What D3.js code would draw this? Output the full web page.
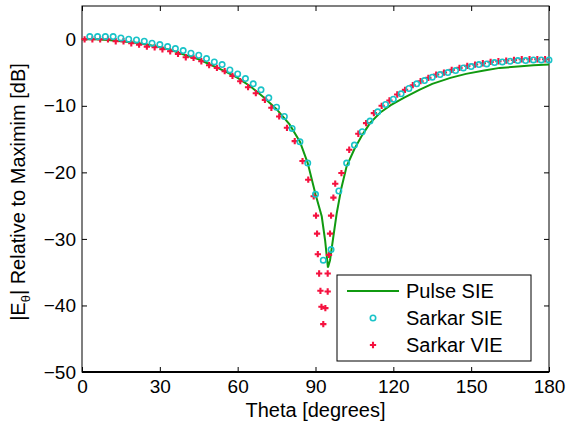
<!DOCTYPE html>
<meta charset="utf-8">
<style>
body { margin: 0; background: #fff; }
text { font-family: "Liberation Sans", Arial, sans-serif; fill: #000; }
</style>
<body>
<script src="https://d3js.org/d3.v7.min.js"></script>
<script>

// Pulse SIE (green line)
var pulseTheta = [0, 5, 10, 15, 20, 25, 30, 35, 40, 45, 50, 55, 60, 65, 70, 75, 80, 84, 87, 90, 92.4, 93.7, 94.8,
                  95.6, 96.9, 98.2, 100, 102, 105, 108, 111, 115, 119, 124, 130, 135, 142, 148, 155, 161, 168, 174, 180];
var pulseDb = [0, 0, -0.1, -0.3, -0.5, -0.8, -1.2, -1.7, -2.4, -3.0, -3.9, -4.8, -5.8, -7.1, -8.7, -10.5, -12.8, -15.4, -18.6, -23.3, -26.6, -30.2, -34.3,
               -33.2, -29.6, -26.1, -22.3, -19.1, -16.5, -14.4, -12.6, -11.0, -9.9, -8.8, -7.6, -6.7, -5.8, -5.2, -4.7, -4.3, -4.1, -3.9, -3.8];

// Sarkar SIE (cyan circles)
var sieTheta = d3.range(3, 181, 3);
var sieDb = [0.4, 0.4, 0.4, 0.4, 0.2, 0, -0.1, -0.3, -0.6, -0.8, -1.1, -1.4, -1.7, -2.1, -2.4, -2.9, -3.4, -3.8, -4.6, -5.2,
             -5.9, -6.7, -7.6, -8.8, -10.2, -11.6, -13.4, -15.4, -18.6, -23.3, -33.2, -31.6, -22.8, -18.6, -15.9, -13.9, -12.3, -10.9, -9.8, -9.0,
             -8.2, -7.4, -6.7, -6.2, -5.7, -5.3, -5.0, -4.7, -4.3, -4.1, -3.8, -3.7, -3.5, -3.4, -3.3, -3.2, -3.2, -3.1, -3.1, -3.1];

// Sarkar VIE (red crosses)
var vieTheta = [1, 4, 7, 10, 13, 16, 19, 22, 25, 28, 31, 34, 37, 40, 43, 46, 49, 52, 55, 58, 61, 64, 67, 70.5, 73, 76, 79, 82, 85,
                87.2, 89.3, 90.2, 90.6, 90.9, 91.4, 91.9, 92.3, 93.0, 93.8, 94.7, 94.7, 95.2, 95.6, 96.0, 96.9, 97.6,
                100, 103, 106.5, 109.5, 112.5, 115.5, 118.5, 121.5, 124.5, 127.5, 130.5, 133.5, 136.5, 139.5, 142.5, 145.5,
                148.5, 151.5, 154.5, 157.5, 160.5, 163.5, 166.5, 169.5, 172.5, 175.5, 178.5];
var vieDb = [0, 0, 0, 0, -0.3, -0.3, -0.6, -0.8, -1.1, -1.2, -1.5, -1.8, -2.2, -2.7, -2.8, -3.3, -3.9, -4.3, -4.8, -5.5, -6.3, -7.2, -8.1, -9.1, -10.3, -11.6, -13.3, -15.3, -18.3,
             -21.1, -23.6, -26.5, -29.2, -32.3, -35.2, -37.8, -40.2, -42.8, -40.4, -37.9, -35.2, -32.4, -29.2, -26.5, -23.8, -21.7,
             -20.1, -16.6, -14.2, -12.6, -11.1, -10.0, -9.2, -8.3, -7.6, -6.9, -6.3, -5.8, -5.3, -5.0, -4.6, -4.3,
             -4.0, -3.8, -3.6, -3.4, -3.3, -3.2, -3.1, -3.0, -3.0, -3.0, -3.0];

var xTicks = [0, 30, 60, 90, 120, 150, 180];
var yTicks = [-50, -40, -30, -20, -10, 0];

var green = "#109a10", cyan = "#19c3c8", red = "#f5123f";

var margin = {top: 6, right: 21, bottom: 56, left: 82},
    width = 570 - margin.left - margin.right,
    height = 428 - margin.top - margin.bottom;

var x = d3.scaleLinear().domain([0, 180]).range([0, width]);
var y = d3.scaleLinear().domain([-50, 5]).range([height, 0]);

var svg = d3.select("body").append("svg")
    .attr("width", 570)
    .attr("height", 428)
  .append("g")
    .attr("transform", "translate(" + margin.left + "," + margin.top + ")");

// axes with inward ticks, mirrored on top/right
function styleAxis(g) {
  g.select(".domain").remove();
  g.selectAll(".tick line").attr("stroke", "#000");
  g.selectAll(".tick text").attr("font-size", "19px").attr("fill", "#000");
}

svg.append("g")
    .attr("transform", "translate(0," + height + ")")
    .call(d3.axisBottom(x).tickValues(xTicks).tickSizeInner(-5).tickSizeOuter(0).tickPadding(8))
    .call(styleAxis);

svg.append("g")
    .call(d3.axisTop(x).tickValues(xTicks).tickSizeInner(-5).tickSizeOuter(0).tickFormat(""))
    .call(styleAxis);

svg.append("g")
    .call(d3.axisLeft(y).tickValues(yTicks).tickSizeInner(-5).tickSizeOuter(0).tickPadding(6))
    .call(styleAxis);

svg.append("g")
    .attr("transform", "translate(" + width + ",0)")
    .call(d3.axisRight(y).tickValues(yTicks).tickSizeInner(-5).tickSizeOuter(0).tickFormat(""))
    .call(styleAxis);

svg.append("rect")
    .attr("width", width)
    .attr("height", height)
    .attr("fill", "none")
    .attr("stroke", "#000")
    .attr("stroke-width", 1);

svg.append("line")
    .attr("x1", 0).attr("x2", width)
    .attr("y1", height).attr("y2", height)
    .attr("stroke", "#000").attr("stroke-width", 2);

// data
var pulse = pulseTheta.map(function(t, i) { return [t, pulseDb[i]]; });
var sie = sieTheta.map(function(t, i) { return [t, sieDb[i]]; });
var vie = vieTheta.map(function(t, i) { return [t, vieDb[i]]; });

var line = d3.line()
    .x(function(d) { return x(d[0]); })
    .y(function(d) { return y(d[1]); });

svg.append("path")
    .datum(pulse)
    .attr("d", line)
    .attr("fill", "none")
    .attr("stroke", green)
    .attr("stroke-width", 2);

var cross = d3.symbol().type(d3.symbolCross).size(22);

svg.selectAll(".vie")
    .data(vie)
  .enter().append("path")
    .attr("class", "vie")
    .attr("d", cross)
    .attr("transform", function(d) { return "translate(" + x(d[0]) + "," + y(d[1]) + ")"; })
    .attr("fill", red);

svg.selectAll(".sie")
    .data(sie)
  .enter().append("circle")
    .attr("class", "sie")
    .attr("cx", function(d) { return x(d[0]); })
    .attr("cy", function(d) { return y(d[1]); })
    .attr("r", 2.7)
    .attr("fill", "none")
    .attr("stroke", cyan)
    .attr("stroke-width", 1.6);

// axis labels
svg.append("text")
    .attr("x", width / 2)
    .attr("y", height + 45)
    .attr("text-anchor", "middle")
    .attr("font-size", "20px")
    .text("Theta [degrees]");

var ylab = svg.append("text")
    .attr("transform", "translate(-57," + (height / 2 + 3) + ") rotate(-90)")
    .attr("text-anchor", "middle")
    .attr("font-size", "20px");
ylab.append("tspan").text("|E");
ylab.append("tspan").attr("font-size", "13px").attr("dy", "5").text("θ");
ylab.append("tspan").attr("dy", "-5").text("| Relative to Maximim [dB]");

// legend
var lg = svg.append("g").attr("transform", "translate(" + (337 - margin.left) + "," + (275 - margin.top) + ")");
lg.append("rect")
    .attr("width", 194)
    .attr("height", 86)
    .attr("fill", "#fff")
    .attr("stroke", "#000");

var rows = ["Pulse SIE", "Sarkar SIE", "Sarkar VIE"];
rows.forEach(function(name, i) {
  var cy = 16 + i * 27;
  if (i === 0) {
    lg.append("line").attr("x1", 10).attr("x2", 62).attr("y1", cy).attr("y2", cy)
      .attr("stroke", green).attr("stroke-width", 2);
  } else if (i === 1) {
    lg.append("circle").attr("cx", 36).attr("cy", cy).attr("r", 2.7)
      .attr("fill", "none").attr("stroke", cyan).attr("stroke-width", 1.6);
  } else {
    lg.append("path").attr("d", cross).attr("transform", "translate(36," + cy + ")").attr("fill", red);
  }
  lg.append("text")
      .attr("x", 69)
      .attr("y", cy + 7)
      .attr("font-size", "20px")
      .text(name);
});

</script>
</body>
